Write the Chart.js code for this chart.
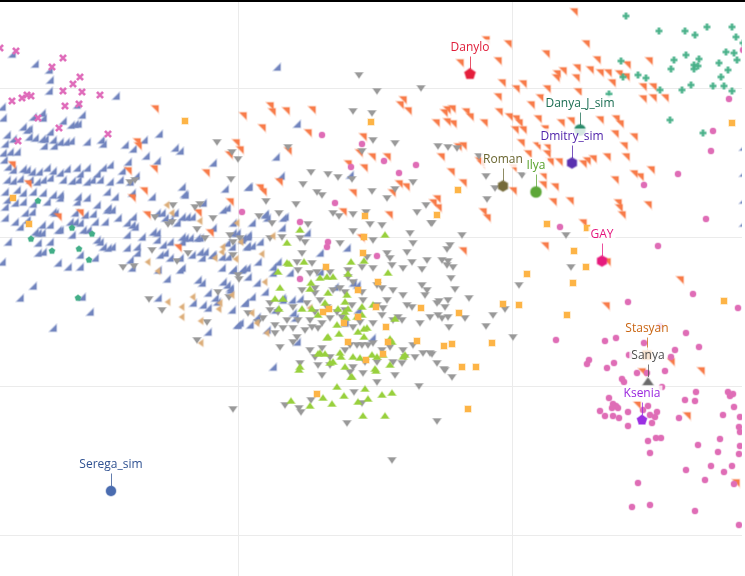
<!DOCTYPE html>
<html>
<head>
<meta charset="utf-8">
<script src="https://cdn.jsdelivr.net/npm/chart.js@4.4.1/dist/chart.umd.min.js"></script>
<style>
  html, body { margin: 0; padding: 0; background: #fff; overflow: hidden; }
  #wrap { position: relative; width: 745px; height: 576px; }
  #topline { position: absolute; left: 0; top: 0; width: 745px; height: 2px; background: #000; z-index: 2; }
</style>
</head>
<body>
<div id="wrap">
  <canvas id="myChart" width="745" height="576"></canvas>
  <div id="topline"></div>
</div>
<script>
// grid positions (tick values, labels hidden in the original)
const xTicks = [23.8, 51.3];
const yTicks = [8.8, 23.7, 38.6, 53.5];

// named points with their labels
const hlNames = ['Danylo', 'Danya_J_sim', 'Dmitry_sim', 'Roman', 'Ilya', 'GAY', 'Stasyan', 'Sanya', 'Ksenia', 'Serega_sim'];
const hlX = [47.0, 58.0, 57.2, 50.3, 53.6, 60.2, 64.7, 64.8, 64.2, 11.1];
const hlY = [7.4, 13.0, 16.3, 18.6, 19.2, 26.1, 35.5, 38.2, 42.0, 49.1];

const blueSE = [[1.2,5.4],[3.5,6.4],[4.9,7.0],[5.0,8.0],[4.9,9.1],[7.7,10.5],[8.2,11.5],[11.6,9.6],[15.9,13.4],[0.2,10.7],[0.3,11.8],[4.2,11.3],[4.3,11.8],[3.3,11.7],[6.3,12.1],[7.1,12.5],[7.5,12.4],[7.8,12.4],[2.3,12.7],[2.7,13.0],[2.9,12.9],[5.0,13.2],[0.7,13.5],[1.3,13.9],[2.9,13.7],[3.5,13.8],[4.2,13.9],[4.5,13.9],[5.3,14.0],[6.0,14.2],[6.6,14.2],[7.1,14.1],[8.7,14.2],[10.1,14.0],[10.3,14.4],[12.5,14.5],[13.3,14.9],[14.4,14.0],[14.6,15.6],[17.5,14.8],[18.0,15.1],[21.3,16.3],[24.8,18.7],[22.5,18.9],[18.2,18.7],[18.4,19.4],[0.5,14.4],[4.4,14.6],[5.4,14.6],[13.6,17.6],[15.7,16.1],[13.0,18.2],[13.2,19.3],[12.8,16.2],[12.2,17.1],
  [0.3,15.3],[1.0,15.2],[1.7,15.2],[0.4,16.0],[0.8,16.7],[1.3,17.0],[2.3,16.9],[2.7,17.0],[3.2,17.2],[3.9,17.2],[4.7,16.8],[5.3,17.1],[6.0,17.3],[6.7,16.9],[7.7,16.8],[8.0,17.4],[8.7,16.8],[9.7,17.4],[10.3,16.8],[11.0,16.5],[0.7,18.0],[1.3,18.1],[2.0,17.9],[3.0,18.0],[3.7,18.2],[4.3,18.0],[5.0,17.8],[6.3,18.0],[7.2,18.1],[7.8,18.0],[8.7,18.2],[9.2,18.0],[10.0,18.0],[11.0,18.2],[12.0,18.0],[0.5,19.2],[1.7,19.0],[2.3,19.3],[3.3,19.2],[4.3,19.3],[5.3,19.5],[6.0,19.5],[7.8,19.7],[8.7,19.8],[10.7,19.2],[11.5,19.7],[0.7,20.0],[1.5,20.3],[2.3,20.2],[3.3,20.4],[4.7,20.2],[6.0,19.8],[7.7,20.2],[9.7,20.5],[10.8,20.8],[0.5,20.7],
  [15.2,19.7],[18.5,19.5],[20.3,20.3],[22.3,21.0],[2.5,21.3],[3.2,21.2],[5.3,21.2],[5.5,21.3],[7.5,21.3],[8.5,21.5],[9.3,21.4],[10.7,21.0],[11.2,21.0],[11.8,21.8],[13.3,21.7],[15.7,21.3],[16.2,21.3],[17.5,21.3],[18.2,21.7],[18.7,21.7],[19.2,21.7],[22.7,20.8],
  [0.5,21.8],[1.5,22.2],[2.0,22.7],[2.7,22.0],[4.2,22.5],[5.0,22.5],[6.0,23.0],[7.0,22.2],[7.5,22.2],[8.0,22.3],[8.3,23.0],[8.8,23.0],[9.5,22.2],[10.5,22.2],[12.7,22.3],[13.2,22.5],[13.5,22.7],[16.5,21.8],[17.0,22.0],[17.7,22.3],[21.3,22.8],[23.3,22.3],
  [3.5,23.2],[3.8,23.3],[4.2,23.3],[5.8,23.0],[7.2,23.5],[9.7,24.0],[10.0,24.2],[12.7,23.5],[14.2,23.7],[15.3,23.2],[15.7,23.3],[18.2,23.7],[18.5,23.8],[19.0,23.8],[19.7,23.8],[20.0,23.8],[23.7,23.3],[24.3,23.8],[24.8,23.7],
  [0.8,24.2],[3.8,24.3],[5.0,24.2],[10.3,24.7],[10.8,24.8],[11.2,24.7],[12.7,24.8],[13.7,24.7],[15.7,24.0],[16.3,24.5],[17.0,24.2],[18.2,24.2],[19.2,25.5],[20.0,25.2],[20.5,25.2],[21.2,25.5],[22.7,24.3],[23.2,24.7],[24.7,24.7],
  [3.8,25.3],[4.3,25.2],[8.0,25.5],[9.5,25.8],[13.0,26.0],[13.7,25.3],[16.0,25.5],[16.5,25.3],[17.0,25.8],[18.0,25.8],[20.2,25.8],[21.3,25.5],[22.2,25.7],[22.8,25.7],[0.2,26.2],
  [5.8,26.3],[6.8,26.7],[8.0,26.7],[13.2,26.8],[15.8,27.0],[18.0,27.0],[18.2,26.8],[22.2,26.8],[23.3,27.0],[24.2,27.0],[24.7,26.8],
  [16.7,27.9],[19.8,28.0],[20.2,28.3],[20.8,29.3],[22.3,28.2],[22.7,28.5],[23.0,28.8],[3.3,28.6],[24.8,27.7],
  [2.0,29.8],[8.2,29.7],[15.8,29.8],[19.3,30.3],[20.3,30.5],[20.8,30.8],[21.5,29.8],[21.7,30.2],[24.5,30.3],[9.0,31.2],
  [23.7,32.5],[24.0,32.3],[20.8,33.2],[5.3,32.8],
  [27.7,6.7],[29.7,12.4],[27.6,15.7],[28.1,17.6],[24.9,18.7],[35.0,17.5],[26.5,21.4],[28.5,21.7],
  [25.2,22.3],[26.5,21.5],[26.7,21.8],[28.3,21.8],[28.2,22.8],[23.3,23.3],[24.8,23.5],[24.2,24.0],[24.7,24.6],[25.2,24.6],[26.0,24.2],[30.7,23.3],[32.0,25.3],[34.7,24.8],[25.8,26.2],[27.8,26.2],[23.3,27.0],[24.3,26.9],[27.3,26.7],[29.0,27.3],[32.0,27.2],[25.7,28.3],[27.3,27.3],[26.5,29.2],[28.2,29.8],[28.3,30.0],[24.5,30.3],[25.2,29.7],[30.0,29.9],[29.2,30.0],[27.5,31.0],[29.3,31.3],[29.5,31.8],[25.7,31.7],[23.8,32.5],[25.0,32.5],[26.7,33.0],[29.7,34.2],[33.5,28.7],[35.3,28.3],[35.7,28.5],[35.8,31.0],[34.5,32.3],[37.2,33.8],[27.3,36.7],[23.0,29.0],[23.2,31.0],
  [74.3,14.7],[74.3,17.3],[74.3,20.0],[74.3,22.3]];

const orangeNE = [[15.5,10.9],[24.3,11.6],[13.7,14.2],[13.8,14.6],[23.6,14.3],[24.0,15.0],[22.9,15.5],[15.4,16.9],[12.8,17.1],[20.6,17.3],[1.2,16.5],[2.8,18.4],[14.4,19.1],[13.2,19.8],
  [8.0,21.3],[5.8,21.7],[14.7,21.5],[19.8,21.3],[23.0,20.2],[21.0,23.3],[17.8,24.8],
  [27.0,10.6],[27.2,11.2],[28.6,11.1],[31.2,11.0],[26.2,12.8],[30.8,13.3],[40.3,10.0],[40.0,10.5],[40.8,11.1],[43.6,12.3],[36.3,13.7],[35.9,15.3],[37.2,15.7],[38.7,15.7],[28.8,15.1],[34.8,16.4],[36.4,16.8],[27.9,18.2],[26.0,18.8],[26.3,19.2],[35.3,19.3],[39.9,18.4],[40.6,18.7],[39.2,19.3],[34.3,21.2],[38.9,21.5],[36.1,23.8],
  [57.4,1.2],[50.8,4.4],[48.6,4.0],[46.0,6.3],[49.8,6.1],[54.6,5.4],[58.6,4.4],[59.7,6.0],[62.7,6.5],[64.9,6.1],[57.7,6.8],[55.7,7.4],[56.3,7.1],[55.6,7.8],[59.0,7.0],[60.0,7.3],[60.8,7.3],[61.9,7.4],[57.6,7.8],[50.2,8.3],[52.3,8.4],[51.6,8.9],[54.7,8.9],[57.8,9.2],[61.2,8.3],[62.6,7.7],[49.8,9.7],[54.0,9.8],[53.1,10.5],[64.3,8.7],[65.3,8.7],[64.3,9.9],[65.3,9.8],[66.5,9.8],[44.7,11.0],[45.2,10.9],[44.4,11.3],[46.6,11.2],[47.0,11.7],[49.9,11.2],[50.9,11.7],[51.6,11.9],[44.7,12.2],[45.3,12.4],[48.4,12.3],[51.9,12.3],[53.8,11.9],[51.5,13.0],[52.3,13.0],[54.5,12.9],[56.1,12.3],[57.1,12.1],[60.0,12.0],[61.6,11.9],[62.0,12.4],[46.3,14.6],[45.8,14.7],[52.1,14.3],[53.7,14.6],[54.7,14.7],[61.5,13.4],[63.4,13.7],[62.4,14.6],[44.1,15.7],[47.9,16.1],[48.1,16.4],[52.8,15.4],[54.7,15.4],[55.0,16.2],[55.9,16.2],[58.3,16.4],[59.3,15.9],[58.7,16.1],[60.7,15.7],[62.6,15.7],[45.1,17.2],[51.3,16.8],[54.3,17.6],[61.5,18.0],[63.4,17.4],[65.1,17.0],[64.0,17.7],[46.3,18.3],[51.3,19.1],[54.3,18.5],[55.5,18.7],[43.7,19.9],[43.3,20.3],[43.8,20.8],[48.3,21.2],[48.7,21.8],[55.3,20.2],[57.0,20.1],[61.8,20.3],[61.9,20.8],[62.2,21.5],[64.8,20.5],[58.3,22.3],[54.5,24.6],[46.3,25.1],[60.7,26.2],
  [60.6,30.6],[67.1,36.2],[70.1,37.1],[64.2,37.2],[63.7,40.5],[68.7,41.6],[73.6,48.3],[68.0,28.0]];

const greyDown = [[21.7,14.2],[23.2,15.2],[23.8,15.9],[23.1,17.9],[13.5,18.0],[13.0,18.2],
  [35.9,7.5],[37.7,9.1],[42.1,8.8],[35.3,11.1],[37.2,11.3],[37.3,14.0],[39.5,14.3],[28.8,14.7],[36.2,15.1],[31.1,17.2],[32.8,17.4],[33.8,17.7],[35.2,17.9],[30.3,18.4],[31.7,19.2],[32.2,19.5],[37.2,19.1],[26.6,20.1],[29.6,20.4],[38.7,19.8],[39.5,18.9],[41.3,18.2],[42.6,20.5],[41.7,21.2],[33.3,21.3],[33.9,21.6],[35.3,21.4],[36.6,21.2],[25.9,21.6],[27.9,21.3],
  [17.3,20.5],[19.5,20.7],[20.0,20.4],[15.5,21.7],[17.2,22.2],[16.8,22.4],[21.3,21.8],[19.7,22.9],[20.5,23.8],[23.0,23.5],[23.3,24.2],[23.3,25.5],[17.7,26.1],[18.8,25.3],[15.2,25.0],[12.3,26.7],[13.4,26.6],[23.8,27.5],[23.9,27.9],[21.8,29.2],[22.9,29.7],[14.9,29.9],[16.2,31.0],[20.7,32.2],[19.7,34.0],[24.8,31.3],
  [27.2,22.3],[30.8,22.4],[37.0,22.4],[38.2,22.5],[43.1,22.3],[35.3,23.1],[41.0,23.3],[37.3,24.0],[41.3,24.3],[40.7,25.2],[24.0,23.8],[27.0,23.8],[28.2,23.7],[30.0,23.8],[30.5,24.2],[30.2,25.3],[34.0,24.3],[38.7,25.3],[39.0,25.8],[36.7,25.7],[42.7,26.0],[41.2,26.2],[29.8,27.0],[29.7,26.2],[31.2,26.3],[31.7,27.2],[31.0,27.3],[33.0,27.2],[34.8,27.0],[36.2,26.7],[37.3,26.8],[39.2,26.5],[40.3,26.8],[42.2,26.9],[44.7,26.5],[34.8,27.7],[35.3,28.2],[30.2,29.0],[31.5,28.8],[31.5,29.3],[33.3,29.0],[34.0,28.8],[34.5,29.2],[36.2,29.2],[37.7,28.5],[38.2,28.8],[39.3,29.0],[40.3,29.5],[38.7,30.0],[42.2,28.5],[42.7,29.0],[42.5,29.5],[32.0,30.0],[30.7,30.3],[29.3,30.7],[32.7,30.7],[31.5,31.2],[33.7,31.2],[34.5,31.0],[35.2,30.5],[36.3,30.0],[37.7,30.5],[38.3,30.8],[40.7,30.5],[41.2,30.7],[43.7,30.3],[43.8,31.5],[44.5,30.7],[44.8,30.0],[44.8,31.7],[43.0,31.7],[42.0,32.3],[40.2,32.0],[39.8,31.7],[39.3,32.0],[38.2,31.5],[37.3,32.3],[36.0,32.2],[35.3,32.7],[34.2,31.7],[33.0,31.8],[32.2,32.3],[31.0,32.0],[29.8,32.0],[28.7,32.0],[27.8,31.2],[27.0,31.0],[26.3,31.8],[27.5,32.5],[25.8,32.2],[28.3,32.8],[30.5,33.0],[29.3,32.8],[31.8,32.8],[31.2,32.7],[27.5,33.3],[28.0,34.7],[29.7,33.7],[29.3,34.2],[31.0,35.0],[31.5,35.7],[32.2,34.8],[33.0,35.7],[34.5,35.0],[35.0,34.5],[35.7,34.5],[36.2,34.5],[36.8,34.5],[37.3,34.3],[38.2,35.0],[39.0,34.7],[40.3,35.0],[41.3,34.5],[41.5,35.7],[40.5,35.7],[39.3,36.2],[37.7,36.2],[36.5,36.2],[35.3,36.7],[33.0,36.5],[31.8,36.5],[30.0,36.3],[32.2,37.5],[36.3,37.3],[39.5,37.5],[40.2,36.3],[42.3,35.3],[43.0,35.3],[43.7,36.3],[44.5,37.0],[27.0,30.3],
  [35.0,37.2],[37.7,38.2],[41.9,38.6],[45.2,37.7],[35.4,39.2],[36.2,40.3],[31.1,40.0],[28.5,40.5],[29.9,40.8],[30.1,41.2],[34.7,42.3],[43.7,42.1],[39.2,46.0],[23.3,40.9],
  [44.2,26.0],[44.8,26.1],[45.3,26.7],[45.1,27.8],[45.5,28.9],[46.9,29.8],[43.9,30.1],[44.2,31.8],[46.5,31.8],[44.9,32.7],[49.3,31.5],[48.6,32.6],[50.5,30.9],[51.9,28.5],[51.3,33.7],[43.2,35.4],[44.4,36.9],
  [43.8,14.6],[44.8,14.7],[45.7,14.8],[47.9,15.6],[48.6,17.6],[49.5,18.8],[48.7,19.9],[52.2,17.5],[43.2,22.3],[46.2,23.5],[45.0,24.5],[44.7,24.9],[56.6,23.5],[57.1,26.7]];

const greenUp = [[30.0,23.0],[28.7,24.3],[30.4,26.2],[28.7,26.3],[28.9,26.4],[27.8,27.2],[35.1,26.2],[36.4,26.1],[38.5,23.5],[38.8,27.3],[32.0,27.8],[32.7,27.7],[33.3,27.7],[34.8,27.4],[31.1,28.3],[31.0,28.9],[28.0,28.8],[32.8,29.3],[34.7,29.5],[27.5,29.9],[28.3,29.9],[32.5,30.3],[34.5,30.2],[27.9,30.9],[30.2,30.9],[31.2,30.9],[33.8,30.9],[34.8,30.9],[36.2,30.7],[31.8,31.5],[34.5,31.2],[36.2,31.5],[37.3,30.5],[39.5,31.9],[34.6,31.8],[35.7,31.7],[33.7,32.5],[36.7,32.8],[36.4,32.9],[33.9,33.4],[35.8,33.2],[32.8,33.7],[32.7,33.8],[36.4,33.7],[39.0,33.9],[39.2,34.2],[37.2,35.5],[32.0,35.3],[32.5,35.4],[34.0,35.3],[31.8,35.4],[34.1,35.7],[35.3,35.7],[37.7,35.7],[36.0,35.8],[38.3,35.5],[40.3,35.7],[40.5,35.5],[33.0,36.3],[34.5,36.7],[39.0,36.5],[30.0,36.7],[35.2,37.7],[37.5,36.9],[33.3,36.2],
  [29.9,37.0],[35.1,37.7],[37.6,37.1],[33.7,38.7],[36.5,38.9],[39.2,39.3],[38.2,39.5],[34.4,39.6],[32.3,39.8],[29.1,40.1],[31.0,40.6],[33.2,40.4],[35.8,40.2],[36.8,39.9],[36.3,41.6],[38.5,41.6]];

const yellowSq = [[18.5,12.1],[1.3,19.8],[2.9,22.4],[37.1,12.2],[36.5,21.6],[43.7,21.5],[36.4,23.7],[36.3,25.3],[32.6,26.7],[37.8,28.2],[35.8,29.0],[42.1,30.8],[37.6,30.7],[32.9,30.9],[32.3,31.2],[35.8,31.7],[34.4,32.3],[38.6,32.7],[34.8,34.2],[38.8,34.2],[41.7,34.1],[44.4,34.6],[38.3,35.4],[36.6,36.0],[31.7,39.4],[46.8,40.9],[52.7,27.4],[50.3,30.4],[51.9,30.5],[45.9,31.3],[45.2,34.4],[49.2,34.3],[46.2,36.7],[47.6,36.7],[45.8,19.0],[54.7,22.4],[58.7,22.8],[57.4,25.1],[58.6,26.7],[73.2,12.3],[57.3,28.3],[56.7,31.5],[72.4,30.1]];

const pinkDots = [[32.2,13.5],[36.2,14.4],[38.4,16.1],[35.1,16.7],[39.9,17.3],[41.6,16.5],[33.5,20.3],[24.2,21.2],[30.0,22.2],[32.8,24.2],[32.7,24.7],[30.0,27.9],[37.7,25.6],[72.9,9.9],[71.3,13.1],[71.1,15.1],[67.8,17.4],[64.4,18.5],[70.6,21.9],[56.0,22.7],[65.8,24.6],[74.3,5.0],
  [69.3,29.4],[62.8,30.2],[55.6,34.0],[60.5,34.1],[61.6,33.8],[68.6,33.3],[66.0,32.6],[64.4,34.3],[67.5,35.0],[69.9,34.7],[62.9,35.5],[67.1,35.7],[58.9,36.0],[58.7,36.4],[61.4,36.3],[60.7,36.8],[63.7,37.3],[66.5,37.1],[64.7,37.3],[73.8,30.8],[62.2,37.9],[62.4,38.2],[66.2,38.7],[69.6,39.2],[72.8,39.2],[73.0,39.6],[73.3,39.4],[60.9,39.8],[61.3,40.4],[61.6,40.6],[61.8,40.8],[61.2,40.8],[60.0,41.1],[60.5,41.6],[61.3,41.6],[61.9,41.8],[62.8,41.2],[64.3,41.0],[64.8,40.6],[65.7,41.2],[65.5,41.7],[65.0,41.5],[65.2,42.3],[62.8,42.6],[67.9,41.8],[68.5,40.0],[69.5,40.1],[73.4,40.7],[72.3,41.5],[74.0,41.7],[73.9,42.7],[74.0,43.2],[64.8,44.1],[65.6,43.8],[66.1,43.8],[65.0,45.3],[69.8,44.5],[72.0,43.9],[71.8,45.2],[74.0,44.6],[73.9,45.4],[68.6,47.0],[71.1,46.6],[72.4,47.2],[73.2,46.6],[70.5,48.0],[73.4,48.4],[63.8,48.3],[63.2,50.7],[65.0,50.5],[69.5,51.1],[73.9,52.5]];

const pinkX = [[0.0,4.8],[1.6,5.1],[6.3,5.8],[5.2,6.7],[8.0,7.7],[7.3,8.4],[6.3,9.1],[8.2,9.2],[10.0,9.5],[1.2,10.1],[2.2,9.8],[2.7,9.5],[3.1,9.6],[6.5,10.6],[7.9,10.4],[3.8,11.8],[5.9,12.8],[10.8,13.4],[1.8,14.1]];

const tealCross = [[62.6,1.6],[65.9,3.1],[68.5,3.1],[69.5,3.5],[70.7,2.7],[73.2,2.7],[73.6,3.7],[62.1,6.1],[67.4,6.0],[68.6,5.5],[67.1,6.9],[69.4,6.5],[69.4,6.9],[69.9,5.9],[69.8,6.6],[71.9,6.3],[72.6,5.2],[73.4,5.3],[73.7,6.0],[72.8,7.0],[72.1,7.7],[62.3,7.7],[63.8,7.5],[64.6,7.8],[66.0,9.0],[68.2,9.0],[69.1,8.5],[71.3,8.6],[72.4,8.6],[73.2,9.1],[60.9,9.4],[67.0,12.0],[70.3,13.3],[74.3,4.3]];

const tealPent = [[3.8,20.1],[7.2,22.8],[9.2,23.4],[3.1,23.9],[5.2,25.1],[7.9,24.9],[8.9,26.0],[7.8,29.8]];

const tanLeft = [[16.7,20.5],[17.2,21.3],[20.0,22.1],[23.7,22.3],[24.1,24.2],[22.3,24.7],[22.2,25.2],[21.5,25.8],[23.6,25.9],[14.8,26.2],[15.8,27.1],[19.3,29.7],[23.2,29.5],[22.0,30.3],[16.8,30.2],[18.2,30.7],[21.9,30.9],[18.2,31.7],[20.1,32.1],[20.1,34.3],[27.3,23.6],[26.2,25.4],[26.5,28.2],[25.2,31.3],[25.7,32.3],[26.7,33.3],[31.0,30.8]];

// marker images
function marker(shape, size, color) {
  const pad = 2;
  const cv = document.createElement('canvas');
  cv.width = cv.height = size + pad * 2;
  const g = cv.getContext('2d');
  const m = cv.width / 2, h = size / 2;
  const poly = (pts) => { g.beginPath(); pts.forEach((p, i) => i ? g.lineTo(p[0], p[1]) : g.moveTo(p[0], p[1])); g.closePath(); };
  const regular = (n, r) => { const pts = []; for (let i = 0; i < n; i++) { const a = -Math.PI / 2 + i * 2 * Math.PI / n; pts.push([m + r * Math.cos(a), m + r * Math.sin(a)]); } poly(pts); };
  g.fillStyle = color; g.strokeStyle = color;
  if (shape === 'x' || shape === 'cross') {
    g.beginPath();
    if (shape === 'x') {
      g.moveTo(m - h, m - h); g.lineTo(m + h, m + h); g.moveTo(m + h, m - h); g.lineTo(m - h, m + h);
    } else {
      g.moveTo(m - h, m); g.lineTo(m + h, m); g.moveTo(m, m - h); g.lineTo(m, m + h);
    }
    g.globalAlpha = 0.3; g.lineWidth = 3.6; g.stroke();
    g.globalAlpha = 1; g.lineWidth = 2.2; g.stroke();
    return cv;
  }
  if (shape === 'se') poly([[m + h, m - h], [m + h, m + h], [m - h, m + h]]);
  else if (shape === 'ne') poly([[m - h, m - h], [m + h, m - h], [m + h, m + h]]);
  else if (shape === 'down') poly([[m - h, m - h * 0.6], [m + h, m - h * 0.6], [m, m + h * 0.8]]);
  else if (shape === 'up') poly([[m - h, m + h * 0.6], [m + h, m + h * 0.6], [m, m - h * 0.8]]);
  else if (shape === 'left') poly([[m + h * 0.6, m - h], [m + h * 0.6, m + h], [m - h * 0.8, m]]);
  else if (shape === 'square') poly([[m - h, m - h], [m + h, m - h], [m + h, m + h], [m - h, m + h]]);
  else if (shape === 'pentagon') regular(5, h * 1.05);
  else if (shape === 'hexagon') regular(6, h);
  else { g.beginPath(); g.arc(m, m, h, 0, Math.PI * 2); }
  g.globalAlpha = 0.35; g.lineWidth = 1.4; g.stroke();
  g.globalAlpha = 1; g.fill();
  return cv;
}

const toPts = arr => arr.map(p => ({ x: p[0], y: p[1] }));

const hlColors = ['#e41f3c', '#2a8c6b', '#5a31b0', '#756a38', '#5ca737', '#e61b7e', '#e2781c', '#6a6a6a', '#9a2fe3', '#4a6cb0'];
const hlText = ['#df1c38', '#1c6e53', '#4c1ea8', '#6a6630', '#58a22c', '#e5157d', '#c96512', '#4d4d4d', '#9a27df', '#2f5191'];
const hlShapes = ['pentagon', 'circle', 'hexagon', 'hexagon', 'circle', 'hexagon', 'square', 'up', 'pentagon', 'circle'];
const hlSizes = [11, 11, 11, 11, 11, 11, 9, 11, 10, 10];

const datasets = [];
hlNames.forEach((n, i) => {
  datasets.push({
    label: n,
    data: [{ x: hlX[i], y: hlY[i] }],
    pointStyle: marker(hlShapes[i], hlSizes[i], hlColors[i]),
    pointRadius: 5,
    clip: 0
  });
});
const series = [
  ['pink x', pinkX, 'x', 6, '#df6ab9'],
  ['teal cross', tealCross, 'cross', 7, '#47b088'],
  ['teal', tealPent, 'pentagon', 6, '#42ae87'],
  ['pink', pinkDots, 'circle', 6, '#df6db6'],
  ['yellow', yellowSq, 'square', 6, '#fdb446'],
  ['green', greenUp, 'up', 8, '#98d03d'],
  ['tan', tanLeft, 'left', 7, '#dcad78'],
  ['grey', greyDown, 'down', 8, '#999999'],
  ['orange', orangeNE, 'ne', 7, '#f87b49'],
  ['blue', blueSE, 'se', 7, '#7184be']
];
series.forEach(s => {
  datasets.push({
    label: s[0],
    data: toPts(s[1]),
    pointStyle: marker(s[2], s[3], s[4]),
    pointRadius: 4,
    clip: 0
  });
});

// text annotations with a stem down to the point
const nameLabels = {
  id: 'nameLabels',
  afterDatasetsDraw(chart) {
    const { ctx, scales: { x, y } } = chart;
    const pts = hlNames.map((n, i) => ({ n, i, px: x.getPixelForValue(hlX[i]), py: y.getPixelForValue(hlY[i]) }));
    ctx.save();
    ctx.font = '12px "Open Sans"';
    ctx.textAlign = 'center';
    ctx.textBaseline = 'middle';
    pts.forEach(p => {
      const ty = p.py - 26.5;
      ctx.strokeStyle = hlText[p.i];
      ctx.globalAlpha = 0.75;
      ctx.lineWidth = 1;
      ctx.beginPath();
      ctx.moveTo(Math.round(p.px) + 0.5, ty + 9);
      ctx.lineTo(Math.round(p.px) + 0.5, p.py - 5);
      ctx.stroke();
      ctx.globalAlpha = 1;
    });
    pts.forEach(p => {
      const ty = p.py - 26.5;
      const w = ctx.measureText(p.n).width;
      ctx.fillStyle = 'rgba(255,255,255,0.8)';
      ctx.fillRect(p.px - w / 2 - 2, ty - 8, w + 4, 16);
      ctx.fillStyle = hlText[p.i];
      ctx.fillText(p.n, p.px, ty);
    });
    ctx.restore();
  }
};

const ctx = document.getElementById('myChart').getContext('2d');
const myChart = new Chart(ctx, {
  type: 'scatter',
  data: { datasets: datasets },
  options: {
    responsive: false,
    animation: false,
    layout: { autoPadding: false, padding: { left: 0, top: 0, right: 3, bottom: 0 } },
    plugins: { legend: { display: false }, tooltip: { enabled: false } },
    scales: {
      x: {
        type: 'linear', min: 0, max: 74.2,
        afterBuildTicks: s => { s.ticks = xTicks.map(v => ({ value: v })); },
        afterFit: s => { s.height = 0; },
        ticks: { display: false },
        grid: { color: '#ebebeb', lineWidth: 1, drawTicks: false },
        border: { display: false }
      },
      y: {
        type: 'linear', min: 0, max: 57.6, reverse: true,
        afterBuildTicks: s => { s.ticks = yTicks.map(v => ({ value: v })); },
        afterFit: s => { s.width = 0; },
        ticks: { display: false },
        grid: { color: '#ebebeb', lineWidth: 1, drawTicks: false },
        border: { display: false }
      }
    }
  },
  plugins: [nameLabels]
});
</script>
</body>
</html>
